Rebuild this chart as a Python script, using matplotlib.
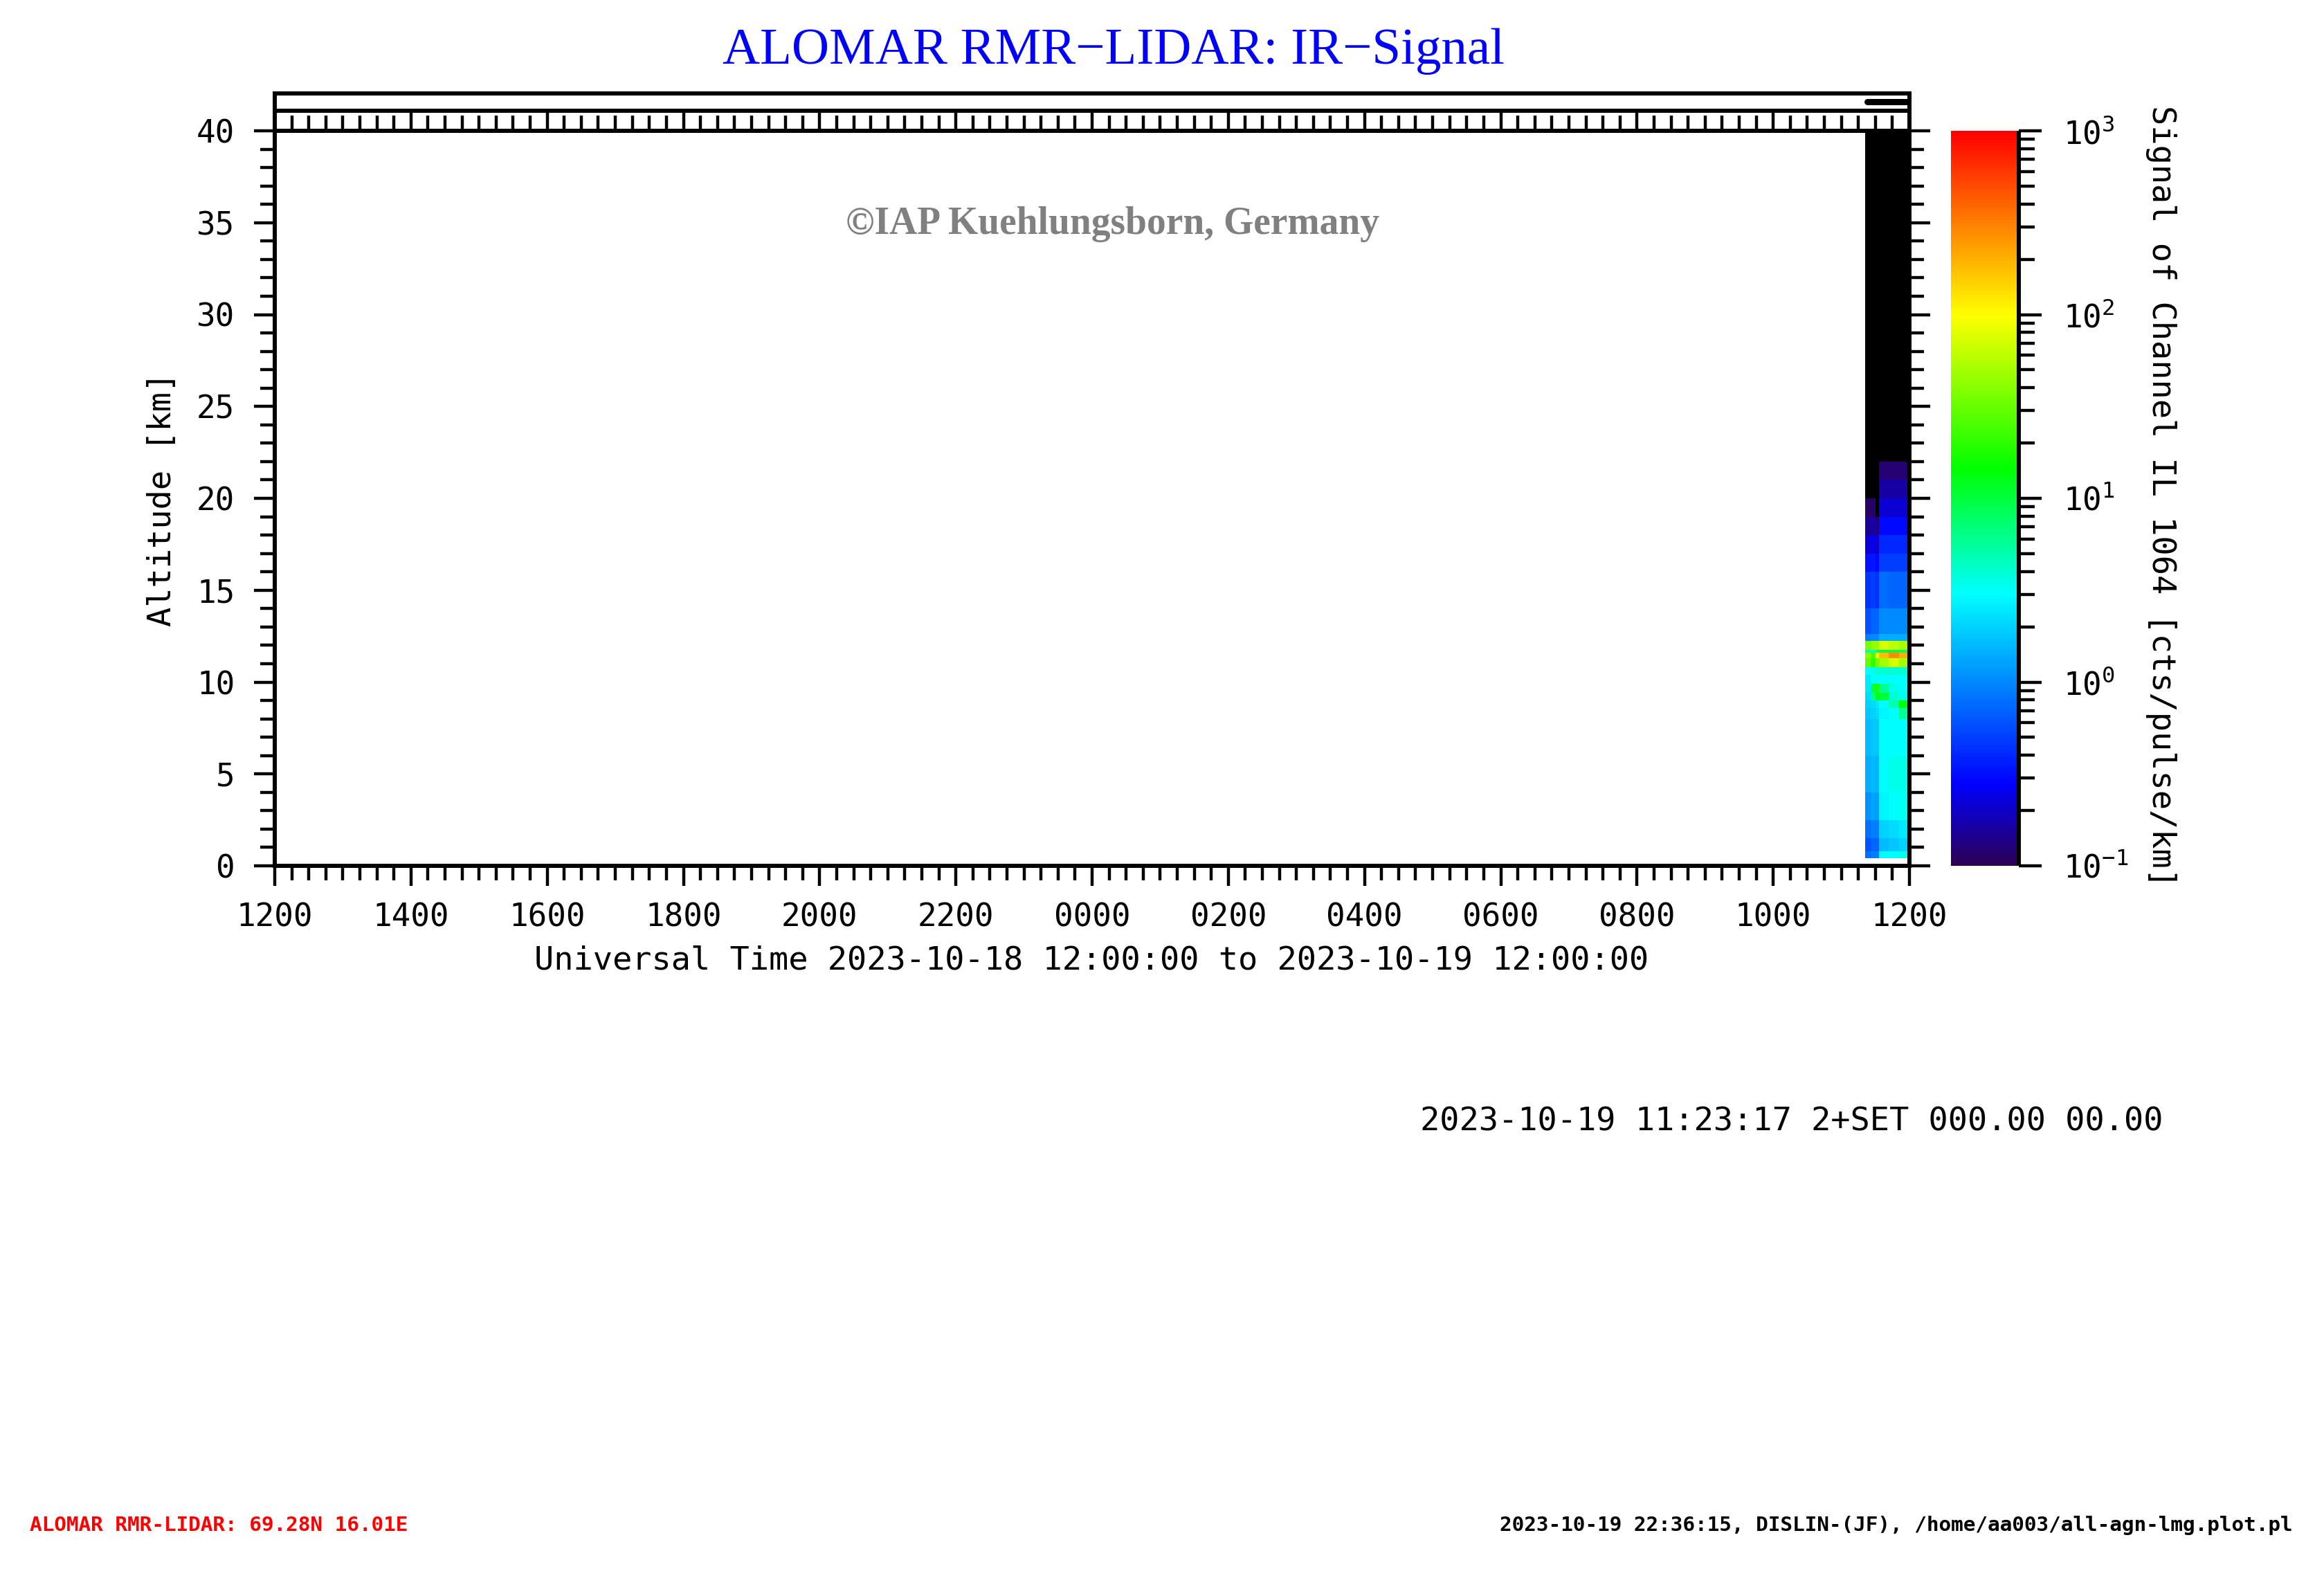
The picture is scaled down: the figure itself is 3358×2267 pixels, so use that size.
import numpy as np
import matplotlib
matplotlib.use('Agg')
import matplotlib.pyplot as plt
from matplotlib.colors import LinearSegmentedColormap, LogNorm
from matplotlib.ticker import MultipleLocator, FuncFormatter, LogLocator

# ---------------- data ----------------
# profile boundaries, minutes after 11:00 UT on 2023-10-19
profile_edges_min = [21, 26, 30, 33, 42, 51, 60]
# altitude layer boundaries [km]
alt_edges_km = [0.4, 0.8, 1.5, 2.5, 4.0, 6.0, 8.0, 8.6, 9.0, 9.4, 9.9, 10.4,
                10.8, 11.3, 11.6, 11.75, 12.25, 12.6, 14.0, 16.0, 17.0, 18.0,
                19.0, 20.0, 21.0, 22.0, 40.0]
# signal [cts/pulse/km], one row per altitude layer, one column per profile
signal = [
    [0.8, 0.9, 0.9, 3.0, 3.0, 3.5],
    [0.6, 0.7, 0.7, 1.6, 1.8, 2.0],
    [0.8, 0.9, 0.9, 2.0, 2.2, 2.5],
    [1.1, 1.3, 1.2, 2.8, 3.0, 3.2],
    [1.4, 1.6, 1.5, 3.0, 3.4, 3.4],
    [1.6, 1.8, 1.8, 3.0, 3.0, 3.0],
    [1.8, 2.0, 2.2, 2.8, 3.0, 6.0],
    [2.0, 2.2, 2.5, 3.0, 5.0, 14.0],
    [2.2, 6.0, 12.0, 10.0, 4.0, 3.5],
    [2.5, 9.0, 18.0, 6.0, 3.5, 3.0],
    [2.5, 3.0, 3.0, 3.0, 3.0, 3.0],
    [3.0, 3.5, 4.0, 4.0, 4.0, 4.0],
    [30.0, 20.0, 35.0, 50.0, 70.0, 50.0],
    [40.0, 25.0, 80.0, 180.0, 280.0, 200.0],
    [5.0, 4.0, 7.0, 9.0, 9.0, 8.0],
    [35.0, 45.0, 45.0, 70.0, 60.0, 50.0],
    [0.9, 1.0, 1.0, 1.4, 1.4, 1.4],
    [0.6, 0.7, 0.7, 1.0, 1.0, 1.0],
    [0.45, 0.5, 0.45, 0.75, 0.7, 0.7],
    [0.32, 0.35, 0.3, 0.5, 0.5, 0.5],
    [0.22, 0.25, 0.2, 0.4, 0.4, 0.4],
    [0.15, 0.16, 0.13, 0.3, 0.3, 0.3],
    [0.11, 0.12, 0.05, 0.22, 0.22, 0.22],
    [0.05, 0.05, 0.05, 0.16, 0.16, 0.16],
    [0.05, 0.05, 0.05, 0.12, 0.12, 0.12],
    [0.05, 0.05, 0.05, 0.05, 0.05, 0.05],
]
# measurement period shown in the top strip, minutes after 11:00 UT
measure_period_min = [23, 58]

x_tick_hours = list(range(0, 25, 2))       # hours since 2023-10-18 12:00 UT
y_ticks_km = list(range(0, 41, 5))

title = "ALOMAR RMR\u2212LIDAR: IR\u2212Signal"
copyright_txt = "\u00a9IAP Kuehlungsborn, Germany"
xlabel = "Universal Time 2023-10-18 12:00:00 to 2023-10-19 12:00:00"
ylabel = "Altitude [km]"
cblabel = "Signal of Channel IL 1064 [cts/pulse/km]"
note_txt = "2023-10-19 11:23:17 2+SET 000.00 00.00"
foot_left = "ALOMAR RMR-LIDAR: 69.28N 16.01E"
foot_right = "2023-10-19 22:36:15, DISLIN-(JF), /home/aa003/all-agn-lmg.plot.pl"

# ---------------- style ----------------
plt.rcParams['font.family'] = ['DejaVu Sans Mono']
plt.rcParams['mathtext.fontset'] = 'custom'
plt.rcParams['mathtext.rm'] = 'DejaVu Sans Mono'
plt.rcParams['mathtext.it'] = 'DejaVu Sans Mono'
plt.rcParams['mathtext.bf'] = 'DejaVu Sans Mono:bold'

W, H = 3358, 2267
fig = plt.figure(figsize=(W / 100, H / 100), dpi=100)

def fx(px):
    return px / W

def fy(py):
    return 1 - py / H

L, R, T, B = 397, 2759, 189, 1251
STRIP_T = 135
CB_L, CB_R = 2819, 2917
SPW = 4.3   # spine width pt
TKW = 3.2   # tick width pt
TLS = 33    # tick label size

cmap = LinearSegmentedColormap.from_list('dislin_rain', [
    (0.00, (0.17, 0.00, 0.33)),
    (0.11, (0.00, 0.00, 1.00)),
    (0.37, (0.00, 1.00, 1.00)),
    (0.54, (0.00, 1.00, 0.00)),
    (0.75, (1.00, 1.00, 0.00)),
    (1.00, (1.00, 0.00, 0.00)),
], N=256)
cmap.set_under('black')
norm = LogNorm(vmin=0.1, vmax=1000)

# ---------------- main axes ----------------
ax = fig.add_axes([fx(L), fy(B), fx(R) - fx(L), fy(T) - fy(B)])
t_edges = 23 + np.array(profile_edges_min) / 60.0
mesh = ax.pcolormesh(t_edges, np.array(alt_edges_km), np.array(signal),
                     cmap=cmap, norm=norm, shading='flat')
ax.set_xlim(0, 24)
ax.set_ylim(0, 40)
ax.set_xticks(x_tick_hours)
ax.xaxis.set_major_formatter(FuncFormatter(lambda v, p: "%02d00" % ((int(round(v)) + 12) % 24)))
ax.xaxis.set_minor_locator(MultipleLocator(0.25))
ax.set_yticks(y_ticks_km)
ax.yaxis.set_minor_locator(MultipleLocator(1))
for s in ax.spines.values():
    s.set_linewidth(SPW)
ax.tick_params(axis='x', which='both', direction='out', bottom=True, top=False,
               width=TKW, labelsize=TLS)
ax.tick_params(axis='x', which='major', length=21, pad=17)
ax.tick_params(axis='x', which='minor', length=15)
ax.tick_params(axis='y', which='both', direction='out', left=True, right=True,
               width=TKW, labelsize=TLS)
ax.tick_params(axis='y', which='major', length=21.6, pad=20)
ax.tick_params(axis='y', which='minor', length=15)

# ---------------- top strip ----------------
axs = fig.add_axes([fx(L), fy(T), fx(R) - fx(L), fy(STRIP_T) - fy(T)])
axs.set_xlim(0, 24)
axs.set_ylim(0, 1)
axs.set_yticks([])
axs.set_xticks(x_tick_hours)
axs.xaxis.set_minor_locator(MultipleLocator(0.25))
axs.tick_params(axis='x', which='both', direction='in', bottom=True, top=False,
                labelbottom=False, width=TKW)
axs.tick_params(axis='x', which='major', length=21)
axs.tick_params(axis='x', which='minor', length=16)
for s in axs.spines.values():
    s.set_linewidth(SPW)
axs.axhline((T - 160) / (T - STRIP_T), color='black', lw=SPW)
mp = 23 + np.array(measure_period_min) / 60.0
axs.plot(mp, [0.78, 0.78], color='black', lw=6.5, solid_capstyle='round')

# ---------------- colorbar ----------------
cax = fig.add_axes([fx(CB_L), fy(B), fx(CB_R) - fx(CB_L), fy(T) - fy(B)])
cb = fig.colorbar(mesh, cax=cax)
cb.outline.set_visible(False)
cax.plot([1, 1], [0, 1], transform=cax.transAxes, color='black', lw=SPW,
         clip_on=False, solid_capstyle='butt')
cax.yaxis.set_major_locator(LogLocator(base=10, numticks=10))
cax.yaxis.set_minor_locator(LogLocator(base=10, subs=np.arange(2, 10), numticks=20))
cax.tick_params(axis='y', which='both', direction='out', right=True, left=False,
                width=TKW, labelsize=TLS)
cax.tick_params(axis='y', which='major', length=23.8, pad=22)
cax.tick_params(axis='y', which='minor', length=16.6)

# ---------------- texts ----------------
fig.text(fx(1609), fy(74), title, color=(0, 0, 1), fontsize=54,
         family=['Liberation Serif', 'DejaVu Serif'], ha='center', va='center')
fig.text(fx(1607), fy(324), copyright_txt, color=(0.5, 0.5, 0.5), fontsize=40,
         family=['Liberation Serif', 'DejaVu Serif'], fontweight='bold',
         ha='center', va='center')
fig.text(fx(1577), fy(1388), xlabel, fontsize=33.8, ha='center', va='center')
fig.text(fx(235), fy(721), ylabel, fontsize=33.8, ha='center', va='center',
         rotation=90)
fig.text(fx(3123), fy(717), cblabel, fontsize=33.8, ha='center', va='center',
         rotation=270)
fig.text(fx(2052), fy(1621), note_txt, fontsize=33.8, ha='left', va='center')
fig.text(fx(43), fy(2204), foot_left, fontsize=21.2, fontweight='bold',
         color=(1, 0, 0), ha='left', va='center')
fig.text(fx(3313), fy(2204), foot_right, fontsize=21.2, fontweight='bold',
         color='black', ha='right', va='center')

fig.savefig('out.png', dpi=100, facecolor='white')
